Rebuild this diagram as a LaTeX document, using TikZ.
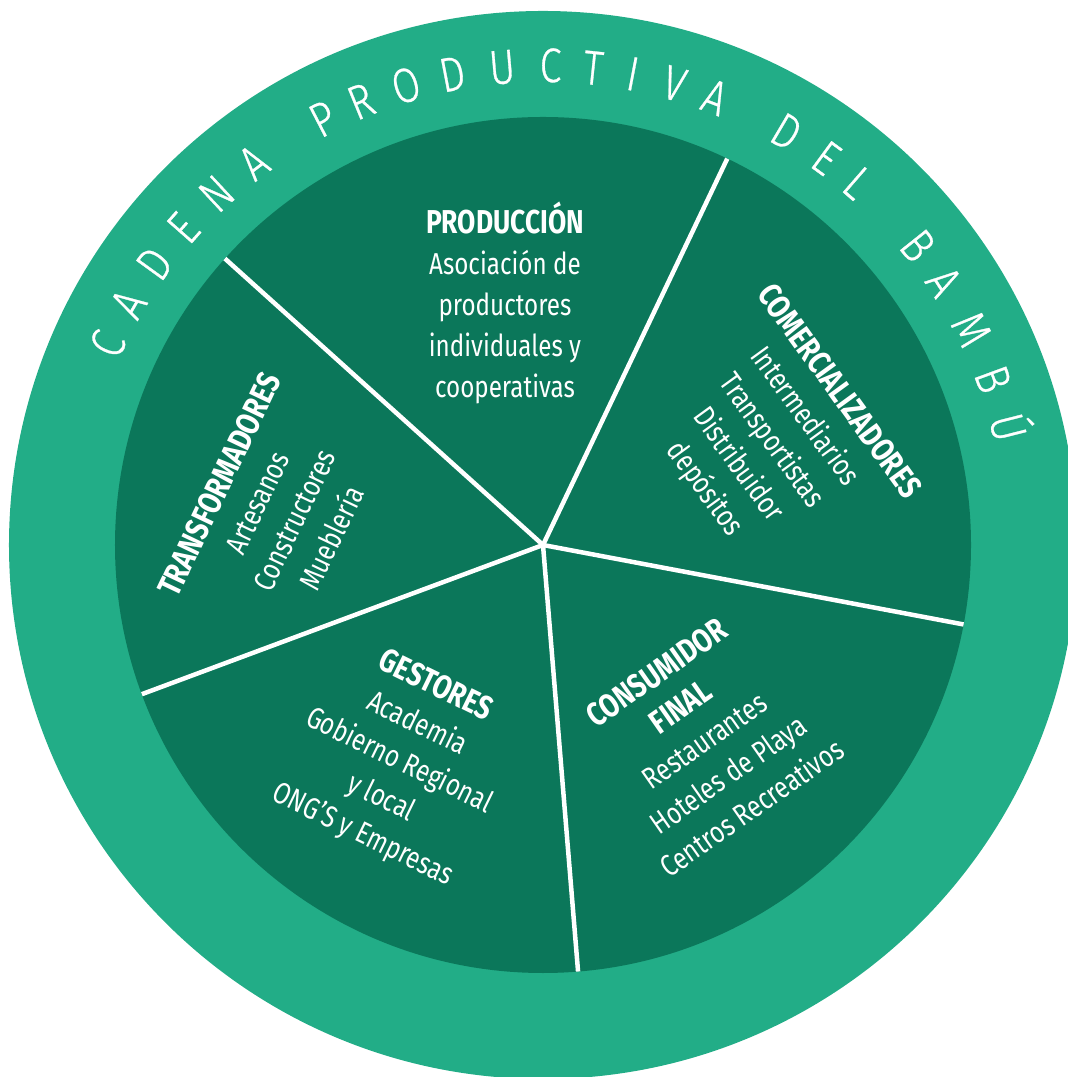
\documentclass[tikz,border=0pt]{standalone}
\usepackage{fontspec}
\setmainfont{Fira Sans}[FakeStretch=0.8]
\newfontfamily\ringfont{Fira Sans Light}[FakeStretch=0.82,FakeBold=0.6]
\definecolor{anillo}{HTML}{22AD87}
\definecolor{sector}{HTML}{0B775A}
\newcommand{\titulo}[1]{{\fontsize{9.4}{11.7}\selectfont\bfseries #1}}
\begin{document}
\begin{tikzpicture}[x=0.01cm,y=0.01cm,line join=round,
	bloque/.style={text=white,align=center,inner sep=0pt,font=\fontsize{8.6}{11.7}\selectfont},
	letra/.style={text=white,anchor=base,inner sep=0pt,font=\ringfont\fontsize{13.8}{15}\selectfont},
	corte/.style={white,line width=0.045cm}]
	\useasboundingbox (-543,-532) rectangle (525,545);
	\fill[anillo] (0,0) circle (534);
	\fill[sector] (0,0) circle (428);
	\path
	(0,0)coordinate(c)
	(138:428)coordinate(r1)
	(64.5:428)coordinate(r2)
	(-10.7:428)coordinate(r3)
	(-85.3:428)coordinate(r4)
	(-159.6:428)coordinate(r5)
	;
	\foreach \r in {r1,r2,r3,r4,r5}
		\draw[corte] (c)--(\r);
	%titulo del anillo
	\foreach \ch/\ang [count=\i] in {C/155.2,A/149.8,D/144.1,E/138.6,N/132.9,A/127.1,
		P/117.3,R/112.3,O/106.6,D/100.9,U/94.9,C/89.1,T/84.0,I/79.2,V/74.1,A/69.0,
		D/59.5,E/53.8,L/49.0,B/38.6,A/33.3,M/26.7,B/20.2,Ú/14.2}
		\node[letra,rotate=\ang-90] (t\i) at (\ang:463) {\ch};
	%sectores
	\node[bloque] (prod) at (-38,242) {\titulo{PRODUCCIÓN}\\Asociación de\\productores\\individuales y\\cooperativas};
	\node[bloque,rotate=-54] (come) at (228,104) {\titulo{COMERCIALIZADORES}\\Intermediarios\\Transportistas\\Distribuidor\\depósitos};
	\node[bloque,rotate=35] (cons) at (161,-195) {\titulo{CONSUMIDOR}\\\titulo{FINAL}\\Restaurantes\\Hoteles de Playa\\Centros Recreativos};
	\node[bloque,rotate=-26] (gest) at (-144,-216) {\titulo{GESTORES}\\Academia\\Gobierno Regional\\y local\\ONG’S y Empresas};
	\node[bloque,rotate=64.5] (tran) at (-268,34) {\titulo{TRANSFORMADORES}\\Artesanos\\Constructores\\Mueblería};
\end{tikzpicture}
\end{document}
